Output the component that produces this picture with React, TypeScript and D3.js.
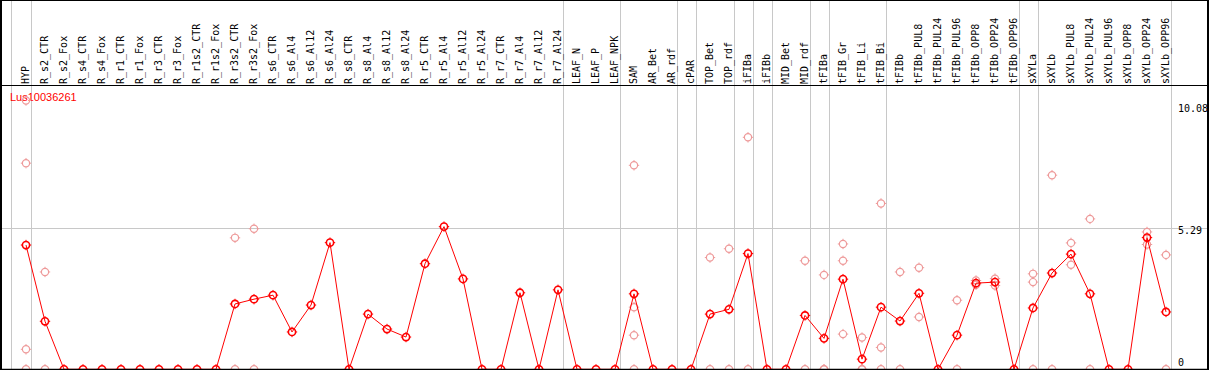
import React, { useEffect } from 'react';
import * as d3 from 'd3';

const geneId = 'Lus10036261';

const columns = [
  'HYP', 'R_s2_CTR', 'R_s2_Fox', 'R_s4_CTR', 'R_s4_Fox', 'R_r1_CTR', 'R_r1_Fox',
  'R_r3_CTR', 'R_r3_Fox', 'R_r1s2_CTR', 'R_r1s2_Fox', 'R_r3s2_CTR', 'R_r3s2_Fox',
  'R_s6_CTR', 'R_s6_Al4', 'R_s6_Al12', 'R_s6_Al24', 'R_s8_CTR', 'R_s8_Al4',
  'R_s8_Al12', 'R_s8_Al24', 'R_r5_CTR', 'R_r5_Al4', 'R_r5_Al12', 'R_r5_Al24',
  'R_r7_CTR', 'R_r7_Al4', 'R_r7_Al12', 'R_r7_Al24', 'LEAF_N', 'LEAF_P', 'LEAF_NPK',
  'SAM', 'AR_Bet', 'AR_rdf', 'cPAR', 'TOP_Bet', 'TOP_rdf', 'iFIBa', 'iFIBb',
  'MID_Bet', 'MID_rdf', 'tFIBa', 'tFIB_Gr', 'tFIB_Li', 'tFIB_Bi', 'tFIBb',
  'tFIBb_PUL8', 'tFIBb_PUL24', 'tFIBb_PUL96', 'tFIBb_OPP8', 'tFIBb_OPP24', 'tFIBb_OPP96',
  'sXYLa', 'sXYLb', 'sXYLb_PUL8', 'sXYLb_PUL24', 'sXYLb_PUL96', 'sXYLb_OPP8',
  'sXYLb_OPP24', 'sXYLb_OPP96',
];

// mean expression per column
const means = [
  4.66, 1.80, 0, 0, 0, 0, 0, 0, 0, 0, 0, 2.45, 2.63,
  2.78, 1.40, 2.41, 4.75, 0, 2.07, 1.51, 1.21, 3.96, 5.35, 3.39, 0,
  0, 2.87, 0, 2.98, 0, 0, 0,
  2.83, 0, 0, 0, 2.07, 2.25, 4.34, 0,
  0, 2.02, 1.16, 3.38, 0.38, 2.33, 1.81,
  2.85, 0, 1.28, 3.23, 3.27, 0,
  2.30, 3.61, 4.32, 2.83, 0, 0, 4.94, 2.15,
];

// individual replicate values (light circles)
const replicates: number[][] = [
  [10.08, 7.73, 0.75, 0], [3.65, 0], [], [], [], [], [], [], [], [], [], [4.93, 0], [5.27, 0],
  [], [], [], [], [], [], [], [], [], [], [], [],
  [], [], [], [], [], [], [],
  [7.65, 2.33, 1.28, 0], [], [], [], [4.19, 0], [4.52, 0], [8.70, 0], [],
  [], [4.07, 0], [3.54, 0, 0], [4.70, 4.07, 1.32], [1.19, 0, 0], [6.22, 0.82, 0], [3.65, 0],
  [3.81, 1.96], [], [2.59, 0], [3.33, 3.17], [3.40, 3.14], [],
  [3.58, 3.27, 0], [7.28, 0], [4.74, 3.92], [5.64, 0], [], [], [5.15, 4.68], [4.29, 0],
];

// a grey divider is drawn after each of these columns
const groupEnds = [
  'HYP', 'R_r7_Al24', 'LEAF_NPK', 'AR_rdf', 'cPAR', 'TOP_rdf', 'iFIBa', 'iFIBb',
  'MID_rdf', 'tFIBa', 'tFIB_Bi', 'tFIBb_OPP96', 'sXYLa', 'sXYLb_OPP96',
];

const yTicks = [0, 5.29, 10.08];

const W = 1209, H = 370;
const headerY = 85.5;

const Marker = ({ cx, cy, color, sw }: { cx: number; cy: number; color: string; sw: number }) => (
  <g stroke={color} fill="none">
    <circle cx={cx} cy={cy} r={3.6} strokeWidth={sw} />
    <path
      d={`M${cx},${cy - 3.6}V${cy - 5.2}M${cx},${cy + 3.6}V${cy + 5.2}M${cx - 3.6},${cy}H${cx - 5.2}M${cx + 3.6},${cy}H${cx + 5.2}`}
      strokeWidth={1}
    />
  </g>
);

export default function App() {
  useEffect(() => {
    document.body.style.margin = '0';
  }, []);

  const x = d3.scaleBand<string>().domain(columns).range([16.5, 16.5 + columns.length * 19]);
  const cx = (c: string) => (x(c) as number) + x.bandwidth() / 2;
  const y = d3.scaleLinear().domain([0, 10.08]).range([369.3, 100.5]);

  const line = d3.line<number>()
    .x((_, i) => cx(columns[i]))
    .y(d => y(d));

  const sepX = (c: string) => Math.round(cx(c) + 4.5) + 0.5;
  const firstSep = Math.round(cx(columns[0]) - 15.5) + 0.5;

  return (
    <svg width={W} height={H} style={{ display: 'block', background: '#fff' }}>
      {/* grey dividers */}
      <line x1={firstSep} x2={firstSep} y1={0} y2={H} stroke="#c8c8c8" />
      {groupEnds.map(c => (
        <line key={c} x1={sepX(c)} x2={sepX(c)} y1={0} y2={H} stroke="#c8c8c8" />
      ))}
      {/* horizontal reference line */}
      <line x1={0} x2={W} y1={Math.round(y(5.29)) + 0.5} y2={Math.round(y(5.29)) + 0.5} stroke="#c8c8c8" />

      {/* column labels */}
      {columns.map(c => (
        <text
          key={c}
          transform={`translate(${cx(c) + 3.3},84) rotate(-90)`}
          fontFamily="'DejaVu Sans Mono', monospace"
          fontSize={10}
          fill="#000"
        >
          {c}
        </text>
      ))}

      {/* y labels */}
      {yTicks.map(t => (
        <text
          key={t}
          x={1178}
          y={Math.max(111.5, Math.min(365.5, y(t) + 6))}
          fontFamily="'DejaVu Sans Mono', monospace"
          fontSize={10}
          fill="#000"
        >
          {t}
        </text>
      ))}

      <text x={10} y={101} fontFamily="'Liberation Sans', Arial, sans-serif" fontSize={11} fill="#ff0000">
        {geneId}
      </text>

      {/* replicates */}
      {replicates.map((reps, i) =>
        reps.map((v, j) => (
          <Marker key={`${i}-${j}`} cx={cx(columns[i])} cy={y(v)} color="#ee9a9a" sw={1.2} />
        ))
      )}

      {/* mean line */}
      <path d={line(means) as string} fill="none" stroke="#ff0000" strokeWidth={1} />
      {means.map((v, i) => (
        <Marker key={i} cx={cx(columns[i])} cy={y(v)} color="#ff0000" sw={1.6} />
      ))}

      {/* frame */}
      <line x1={0} x2={W} y1={0.5} y2={0.5} stroke="#000" />
      <line x1={0} x2={W} y1={headerY} y2={headerY} stroke="#000" />
      <line x1={0} x2={W} y1={369.5} y2={369.5} stroke="#000" strokeWidth={1.5} />
      <line x1={1} x2={1} y1={0} y2={H} stroke="#000" strokeWidth={2} />
      <line x1={1208} x2={1208} y1={0} y2={H} stroke="#000" strokeWidth={2} />
    </svg>
  );
}
